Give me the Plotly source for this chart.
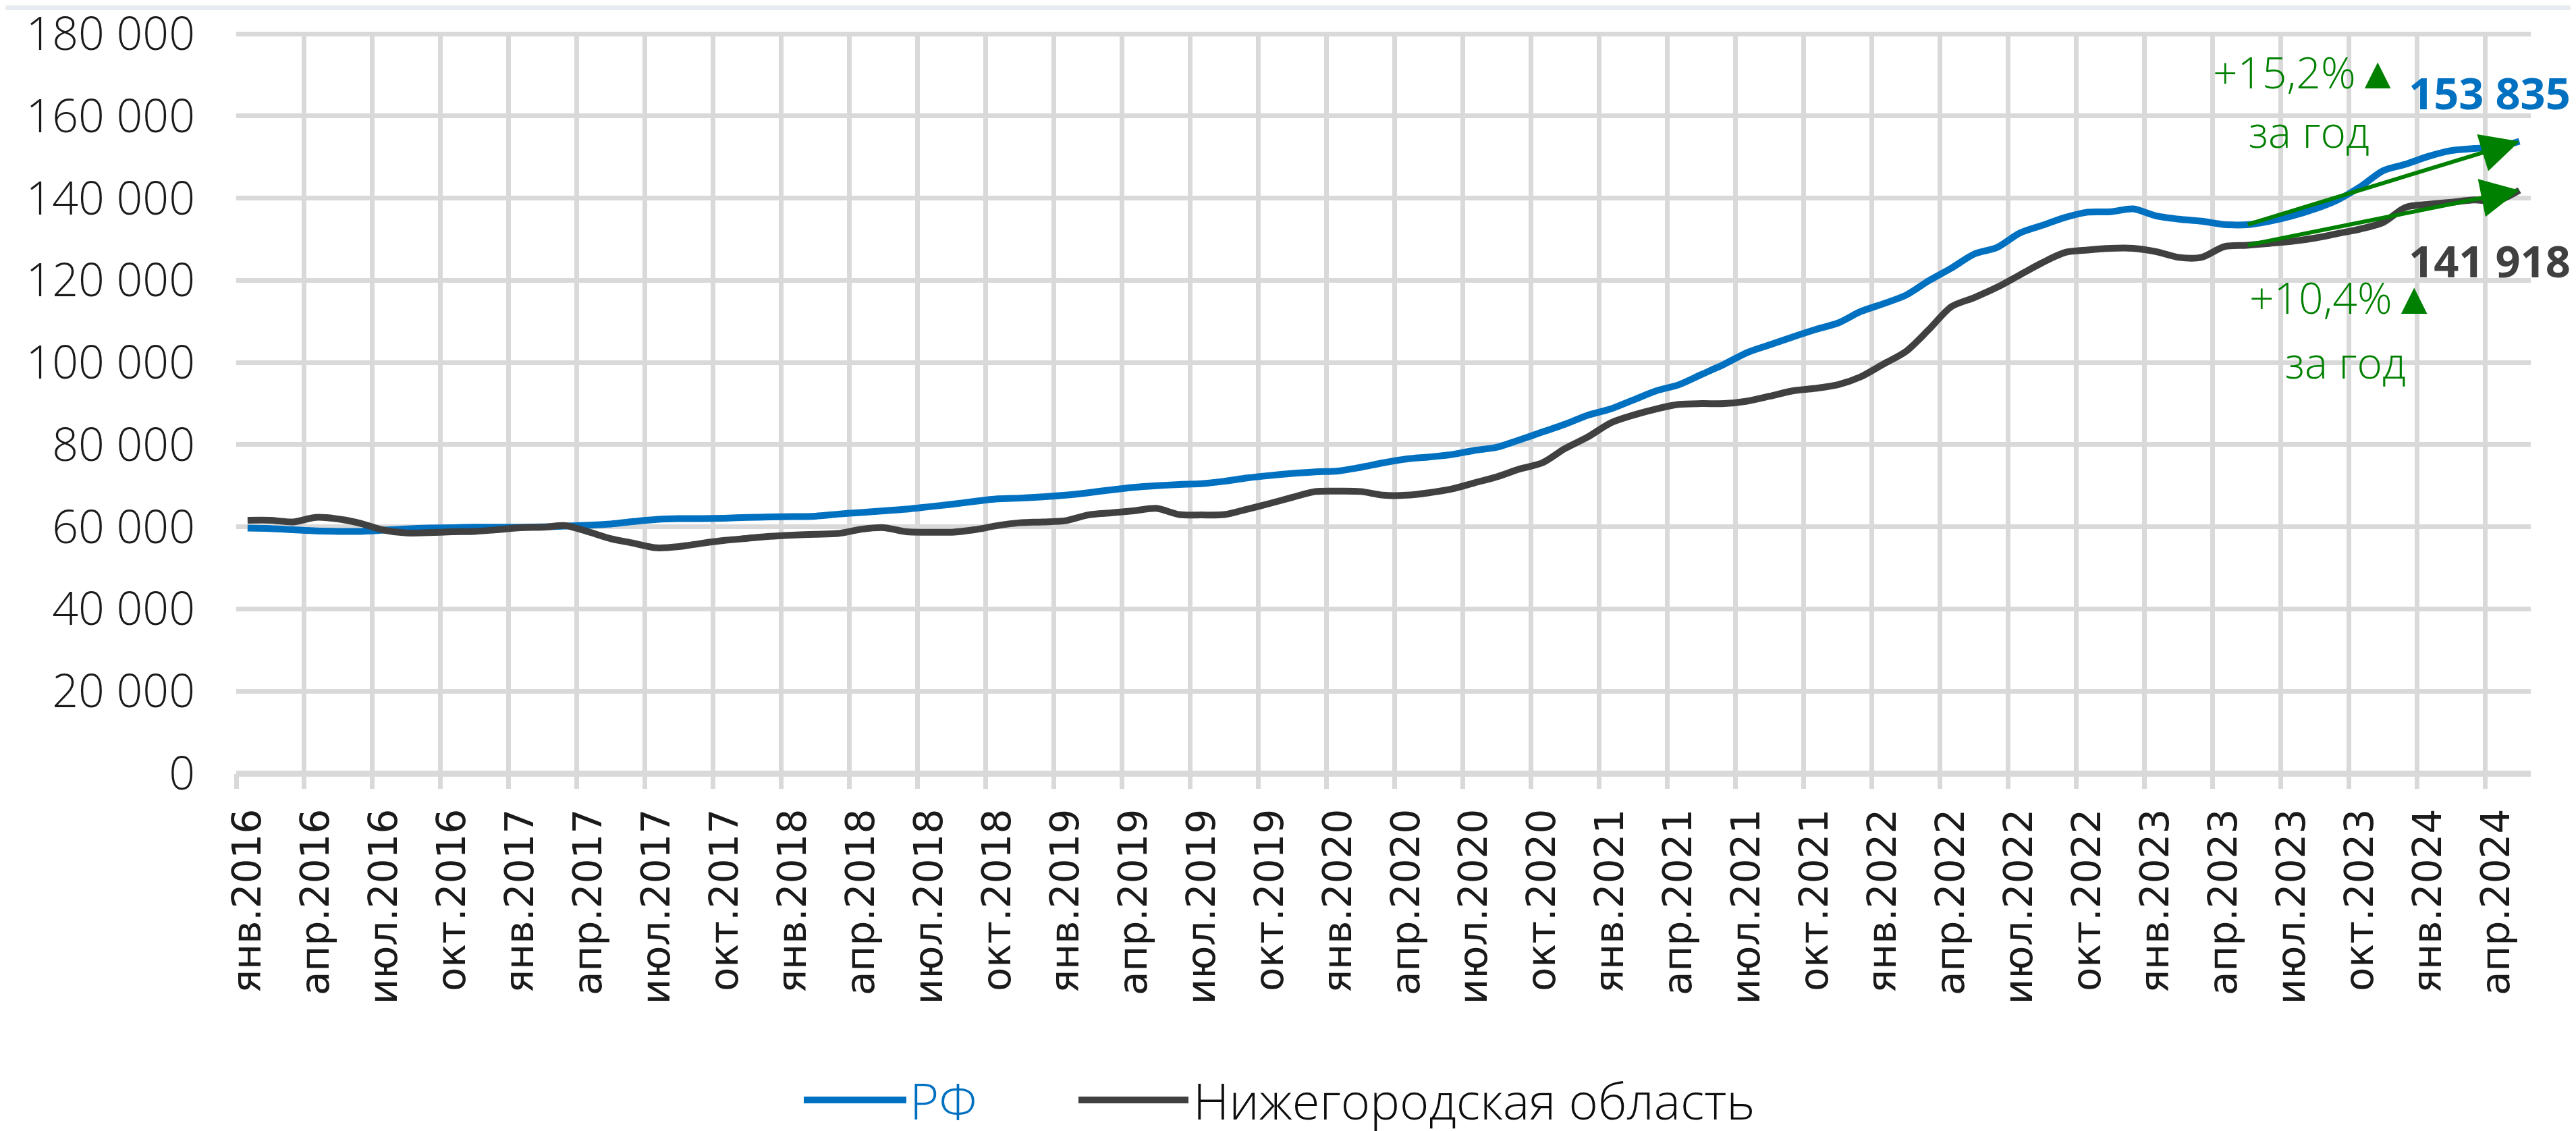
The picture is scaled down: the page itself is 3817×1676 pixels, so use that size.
import plotly.graph_objects as go

# ---------------- data ----------------
month_names = ["янв", "фев", "мар", "апр", "май", "июн", "июл", "авг", "сен", "окт", "ноя", "дек"]
first_year = 2016
n_months = 101  # янв.2016 ... май.2024
categories = [f"{month_names[k % 12]}.{first_year + k // 12}" for k in range(n_months)]
x_idx = list(range(n_months))

rf_values = [
    59700, 59600, 59300, 59000, 58900, 58900, 59200, 59500, 59700, 59800, 59900, 59900,   # 2016
    59900, 60000, 60200, 60400, 60700, 61300, 61800, 62000, 62000, 62100, 62300, 62400,   # 2017
    62500, 62600, 63100, 63500, 63900, 64300, 64900, 65500, 66200, 66800, 67000, 67300,   # 2018
    67700, 68300, 69000, 69600, 70000, 70300, 70500, 71100, 71900, 72500, 73000, 73400,   # 2019
    73600, 74500, 75600, 76500, 77000, 77600, 78600, 79400, 81200, 83100, 85000, 87200,   # 2020
    88700, 90900, 93100, 94600, 97100, 99600, 102400, 104300, 106200, 108000, 109600, 112400,  # 2021
    114300, 116400, 119900, 123000, 126400, 128000, 131500, 133400, 135300, 136600, 136700, 137400,  # 2022
    135700, 134900, 134400, 133600, 133540, 134400, 135700, 137400, 139600, 142800, 146700, 148300,  # 2023
    150200, 151600, 152100, 152400, 153835,  # 2024
]

nn_values = [
    61600, 61600, 61200, 62300, 61900, 60800, 59200, 58500, 58600, 58800, 58900, 59300,   # 2016
    59800, 59900, 60300, 58800, 57100, 56000, 54900, 55200, 56000, 56700, 57200, 57700,   # 2017
    58000, 58200, 58400, 59400, 59800, 58800, 58700, 58700, 59300, 60300, 61000, 61200,   # 2018
    61500, 62900, 63400, 63900, 64500, 63000, 62900, 63000, 64300, 65700, 67200, 68600,   # 2019
    68700, 68600, 67700, 67700, 68300, 69200, 70700, 72200, 74100, 75600, 79100, 81900,   # 2020
    85300, 87200, 88700, 89800, 90000, 90000, 90600, 91800, 93100, 93700, 94600, 96500,   # 2021
    99600, 102700, 108000, 113600, 115800, 118300, 121300, 124300, 126800, 127400, 127800, 127800,  # 2022
    127000, 125600, 125600, 128200, 128550, 129000, 129500, 130300, 131400, 132500, 134100, 137800,  # 2023
    138500, 139000, 139600, 139300, 141918,  # 2024
]

series_names = ["РФ", "Нижегородская область"]
base_month = "май.2023"   # year-ago month for the growth arrows
pct_suffix = "за год"
y_max = 180000
y_step = 20000

# ---------------- style ----------------
BLUE = "#0070C0"
DARK = "#404040"
GREEN = "#008000"
GRID = "#D9D9D9"
TXT = "#1A1A1A"
LIGHT_FONT = "Open Sans"

W, H = 3817, 1676
ML, MR, MT, MB = 342, 75, 40, 538
PW, PH = W - ML - MR, H - MT - MB


def fmt_int(v):
    return f"{v:,}".replace(",", " ")


def fmt_pct(p):
    return (("+" if p >= 0 else "") + f"{p:.1f}".replace(".", ",") + "%"
            + '<span style="font-family:DejaVu Sans;font-size:66px">\u25B2</span>')


fig = go.Figure()
fig.add_trace(go.Scatter(x=x_idx, y=rf_values, name=series_names[0], mode="lines",
                         line=dict(color=BLUE, width=10, shape="spline", smoothing=0.8)))
fig.add_trace(go.Scatter(x=x_idx, y=nn_values, name=series_names[1], mode="lines",
                         line=dict(color=DARK, width=10, shape="spline", smoothing=0.8)))

tick_pos = x_idx[::3]
tick_txt = categories[::3]

fig.update_layout(
    width=W, height=H,
    margin=dict(l=ML, r=MR, t=MT, b=MB),
    paper_bgcolor="white", plot_bgcolor="white",
    showlegend=False,
    separators=", ",
)
fig.update_xaxes(
    range=[-0.5, n_months - 0.5], automargin=False,
    tickmode="array", tickvals=tick_pos, ticktext=tick_txt,
    tickangle=-90, ticks="", showgrid=False, zeroline=False, showline=False,
    tickfont=dict(family="DejaVu Sans", size=58, color=TXT),
    ticklabelstandoff=40,
    minor=dict(tickmode="array", tickvals=[p - 0.5 for p in tick_pos],
               showgrid=True, gridcolor=GRID, gridwidth=7,
               ticks="outside", ticklen=22, tickwidth=7, tickcolor=GRID),
)
fig.update_yaxes(
    range=[0, y_max * 1.002], tickmode="array",
    tickvals=list(range(0, y_max + 1, y_step)), tickformat=",",
    automargin=False, ticklabeloverflow="allow",
    showgrid=True, gridcolor=GRID, gridwidth=7,
    zeroline=True, zerolinecolor=GRID, zerolinewidth=9, showline=False,
    ticks="", ticklabelstandoff=60,
    tickfont=dict(family=LIGHT_FONT, size=68, color=TXT, weight=300),
)

# growth arrows (year-ago month -> last month)
b = categories.index(base_month)
last = n_months - 1
for vals in (rf_values, nn_values):
    fig.add_annotation(x=x_idx[last], y=vals[last], ax=x_idx[b], ay=vals[b],
                       xref="x", yref="y", axref="x", ayref="y", text="",
                       showarrow=True, arrowhead=2, arrowsize=1.9, arrowwidth=6,
                       arrowcolor=GREEN)

# last values
fig.add_annotation(x=x_idx[last], y=rf_values[last], xref="x", yref="y",
                   text=f"<b>{fmt_int(rf_values[last])}</b>", showarrow=False,
                   xshift=-44, yshift=72, font=dict(family=LIGHT_FONT, size=65, color=BLUE))
fig.add_annotation(x=x_idx[last], y=nn_values[last], xref="x", yref="y",
                   text=f"<b>{fmt_int(nn_values[last])}</b>", showarrow=False,
                   xshift=-44, yshift=-104, font=dict(family=LIGHT_FONT, size=65, color=DARK))

# growth labels (two lines each)
rf_pct = (rf_values[last] / rf_values[b] - 1) * 100
nn_pct = (nn_values[last] / nn_values[b] - 1) * 100
green_font = dict(family=LIGHT_FONT, size=64, color=GREEN, weight=300)
for pct, vals, xs, y1, y2 in ((rf_pct, rf_values, -316, 103, 15),
                              (nn_pct, nn_values, -262, -158, -254)):
    fig.add_annotation(x=x_idx[last], y=vals[last], xref="x", yref="y",
                       text=fmt_pct(pct), showarrow=False,
                       xshift=xs, yshift=y1, font=green_font)
    fig.add_annotation(x=x_idx[last], y=vals[last], xref="x", yref="y",
                       text=pct_suffix, showarrow=False,
                       xshift=xs + 4, yshift=y2, font=green_font)

# legend (drawn manually to get long Excel-style line samples)
def px_x(X):
    return (X - ML) / PW


def px_y(Y):
    return (MT + PH - Y) / PH


leg_y = px_y(1622)
legend_items = [(series_names[0], BLUE, BLUE, 1183, 1335, 1338),
                (series_names[1], DARK, "#0D0D0D", 1590, 1753, 1758)]
for name, lc, tc, x0, x1, tx in legend_items:
    fig.add_shape(type="line", xref="paper", yref="paper",
                  x0=px_x(x0), x1=px_x(x1), y0=leg_y, y1=leg_y,
                  line=dict(color=lc, width=10))
    fig.add_annotation(xref="paper", yref="paper", x=px_x(tx), y=leg_y,
                       xanchor="left", yanchor="middle", showarrow=False, text=name,
                       font=dict(family=LIGHT_FONT, size=74, color=tc, weight=300))

# thin light band at top of image
fig.add_shape(type="rect", xref="paper", yref="paper", layer="below",
              x0=px_x(0), x1=px_x(W), y0=px_y(7), y1=px_y(0),
              line=dict(width=0), fillcolor="#E8EBF1")

fig.write_html("out.html")
